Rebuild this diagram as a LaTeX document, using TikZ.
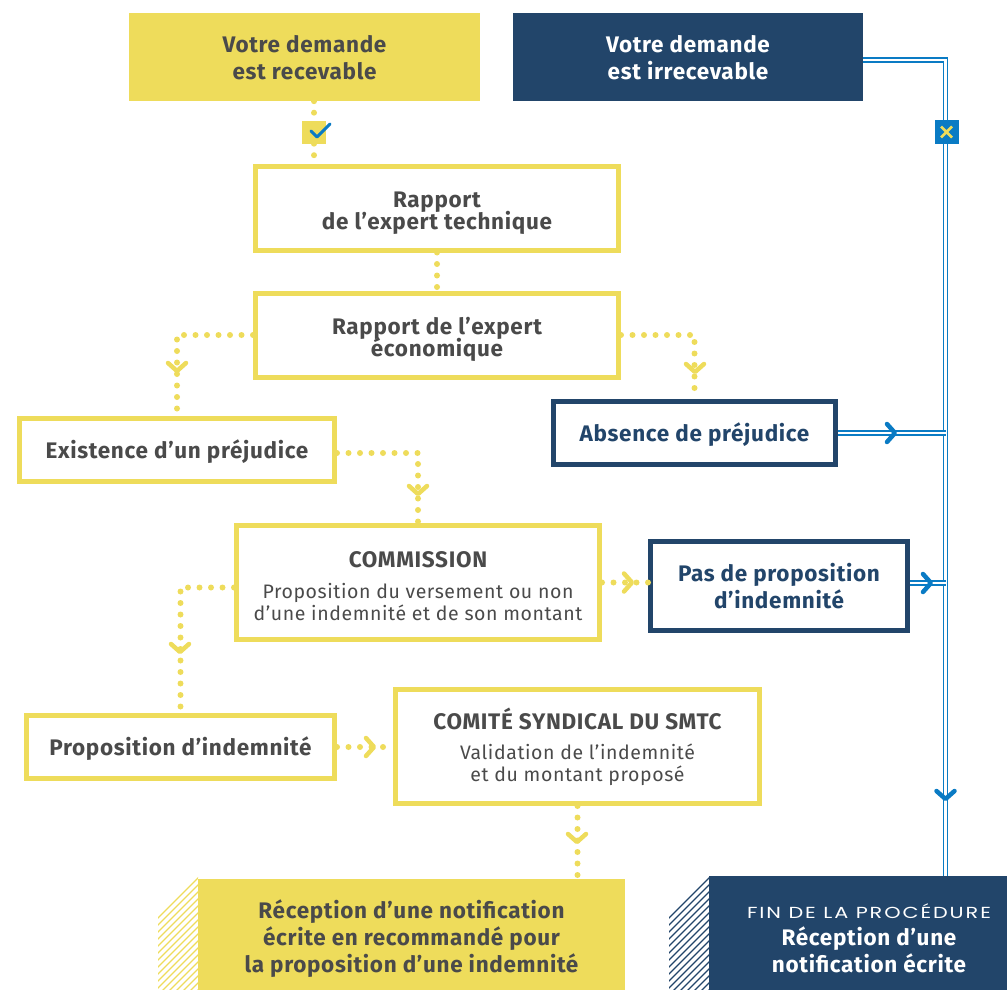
\documentclass[tikz,border=0pt]{standalone}
\usepackage{fontspec}
\setmainfont{Fira Sans}[LetterSpace=3]
\newfontfamily\capsf{Poppins}[FakeStretch=1.3, LetterSpace=12]
\newcommand\tightls{\lineskiplimit=-40pt\relax}
\newcommand\subtfont{\mdseries\fontsize{19.5}{21.5}\selectfont\tightls}
\newcommand\tstr[1]{\rule{0pt}{#1pt}}
\definecolor{ylw}{RGB}{238,220,91}
\definecolor{dblue}{RGB}{34,69,106}
\definecolor{bblue}{RGB}{10,123,196}
\definecolor{txtg}{RGB}{74,74,74}
\tikzset{
  boxbase/.style={rectangle, inner sep=0pt, align=center},
  yfill/.style={boxbase, fill=ylw, text=txtg, font=\bfseries\fontsize{22.5}{27}\selectfont\tightls},
  bfill/.style={boxbase, fill=dblue, text=white, font=\bfseries\fontsize{22.5}{27}\selectfont\tightls},
  yline/.style={boxbase, draw=ylw, line width=5pt, text=txtg, font=\bfseries\fontsize{22.5}{22}\selectfont\tightls},
  bline/.style={boxbase, draw=dblue, line width=5pt, text=dblue, font=\bfseries\fontsize{22.5}{27}\selectfont\tightls},
  dots/.style={ylw, line width=6pt, line cap=round, dash pattern=on 0pt off 11.5pt},
  rail/.style={draw=bblue, line width=1.6pt, double=white, double distance=2.2pt},
  chevr/.pic={\draw[line width=4.5pt, line cap=round, line join=round] (-4,-9) -- (4,0) -- (-4,9);},
  chevd/.pic={\draw[line width=4.5pt, line cap=round, line join=round] (-9,-4) -- (0,4) -- (9,-4);},
}
\begin{document}
\begin{tikzpicture}[x=1pt, y=-1pt]
\path[use as bounding box] (0,0) rectangle (1007,990);

% hatching
\begin{scope}
  \clip (198,876) -- (158,916) -- (158,990) -- (198,990) -- cycle;
  \foreach \i in {0,...,24} \draw[ylw, line width=1.1pt] (150, 870+\i*7) -- ++(70,-70);
\end{scope}
\begin{scope}
  \clip (709,876) -- (669,916) -- (669,990) -- (709,990) -- cycle;
  \foreach \i in {0,...,24} \draw[dblue, line width=1.1pt] (661, 870+\i*7) -- ++(70,-70);
\end{scope}

% boxes
\node[yfill, minimum width=351pt, minimum height=88pt] (rec) at (304.5,57) {\tstr{19}Votre demande\\est recevable};
\node[bfill, minimum width=350pt, minimum height=88pt] (irr) at (688,57) {\tstr{19}Votre demande\\est irrecevable};
\node[yline, minimum width=363pt, minimum height=84pt] (tech) at (437,208) {\tstr{25}Rapport\\de l’expert technique};
\node[yline, minimum width=363pt, minimum height=84pt] (eco) at (437,335) {\tstr{25}Rapport de l’expert\\économique};
\node[bline, minimum width=282pt, minimum height=63pt] (abs) at (694.5,433) {\tstr{21}Absence de préjudice};
\node[yline, minimum width=315pt, minimum height=63pt] (exi) at (177,450) {\tstr{21}Existence d’un préjudice};
\node[yline, minimum width=363pt, minimum height=114pt] (com) at (418,582.5) {\tstr{23}COMMISSION\\[9pt]{\subtfont Proposition du versement ou non}\\{\subtfont d’une indemnité et de son montant}};
\node[bline, minimum width=257pt, minimum height=89pt] (pas) at (779,586) {\tstr{19}Pas de proposition\\d’indemnité};
\node[yline, minimum width=308pt, minimum height=63pt] (prop) at (180.5,747) {\tstr{22}Proposition d’indemnité};
\node[yline, minimum width=364pt, minimum height=114pt] (comi) at (577.5,746.5) {\tstr{21}COMITÉ SYNDICAL DU SMTC\\[8pt]{\subtfont Validation de l’indemnité}\\{\subtfont et du montant proposé}};
\node[yfill, minimum width=427pt, minimum height=114pt] (notif) at (411.5,936) {\tstr{23}Réception d’une notification\\écrite en recommandé pour\\la proposition d’une indemnité};
\node[bfill, minimum width=298pt, minimum height=114pt] (fin) at (858,933) {};
\node[text=white, align=center, font=\bfseries\fontsize{22.5}{27}\selectfont\tightls] (fintxt) at (869,938) {{\capsf\mdseries\fontsize{16}{20}\selectfont FIN DE LA PROCÉDURE}\\Réception d’une\\notification écrite};

% yellow dotted connectors
\node[fill=ylw, minimum width=24pt, minimum height=23pt, inner sep=0pt] (chk) at (314,132) {};
\draw[dots] (rec.south -| chk) -- (chk.north);
\draw[dots] (chk.south) -- (tech.north -| chk);
\draw[bblue, line width=3pt, line cap=round, line join=round] (311,131) -- (317,137) -- (330,124);
\draw[dots] (tech.south) -- (eco.north);
\draw[dots] (eco.west) -| (exi.north);
\draw[dots] (eco.east) -| (abs.north);
\draw[dots] ([yshift=-3pt]exi.east) -| (com.north);
\draw[dots] (com.east) -- (com.east -| pas.west);
\draw[dots] ([yshift=-5pt]com.west) -| (prop.north);
\draw[dots] (prop.east) -- (prop.east -| comi.west);
\draw[dots] (comi.south) -- (comi.south |- notif.north);
\pic[ylw] at (177,367) {chevd};
\pic[ylw] at (695,368) {chevd};
\pic[ylw] at (418,490) {chevd};
\pic[ylw] at (180,648) {chevd};
\pic[ylw] at (577,838) {chevd};
\pic[ylw] at (628,582.5) {chevr};
\pic[ylw] at (370,747) {chevr};

% blue rail
\coordinate (corner) at (945.5,60);
\draw[rail] (irr.east |- corner) -- (corner) -- (corner |- fin.north);
\draw[rail] (abs.east) -- (abs.east -| corner);
\draw[rail] ([yshift=3pt]pas.east) -- ([yshift=3pt]pas.east -| corner);
\node[fill=bblue, minimum width=24pt, minimum height=24pt, inner sep=0pt] (xbox) at (946.5,132) {};
\draw[ylw, line width=2.6pt] (941,126.5) -- (952,137.5) (952,126.5) -- (941,137.5);
\pic[bblue] at (945.5,795) {chevd};
\pic[bblue] at (891,433) {chevr};
\pic[bblue] at (927,583) {chevr};
\end{tikzpicture}
\end{document}
